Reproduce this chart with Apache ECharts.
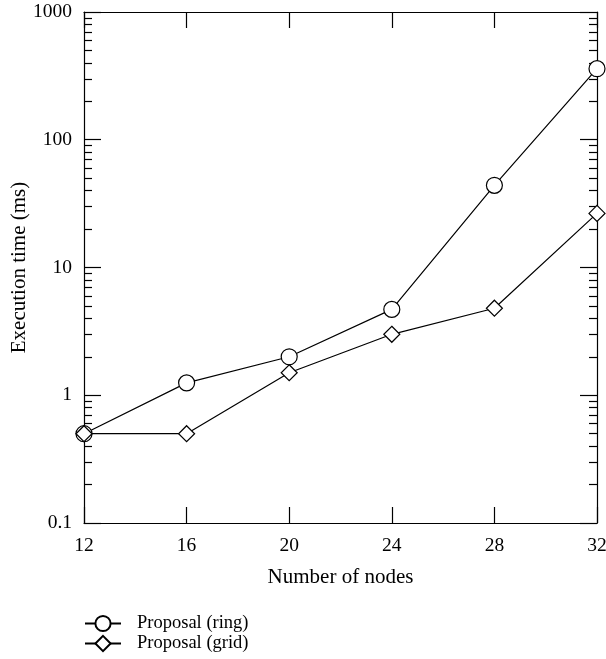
<!DOCTYPE html>
<html>
<head>
<meta charset="utf-8">
<script src="https://cdn.jsdelivr.net/npm/echarts@6/dist/echarts.min.js"></script>
<style>
  html, body { margin: 0; padding: 0; background: #fff; }
  #chart { width: 606px; height: 659px; }
</style>
</head>
<body>
<div id="chart"></div>
<script>
// nodes on the x axis
const nodes = [12, 16, 20, 24, 28, 32];
// execution time (ms)
const ringTimes = [0.5, 1.25, 2.0, 4.7, 44, 360];
const gridTimes = [0.5, 0.5, 1.5, 3.0, 4.8, 26.5];
// minor tick values between decades
const minorTickValues = [];
[0.1, 1, 10, 100].forEach(d => {
  for (let k = 2; k <= 9; k++) minorTickValues.push(Math.log10(k * d));
});

const chart = echarts.init(document.getElementById('chart'));
const font = 'Liberation Serif';
const black = '#000';

const pairs = arr => nodes.map((n, i) => [n, arr[i]]);

const lineBase = {
  type: 'line',
  symbolSize: 16,
  showAllSymbol: true,
  lineStyle: { color: black, width: 1.2 },
  itemStyle: { color: '#fff', borderColor: black, borderWidth: 1.2 },
  emphasis: { disabled: true },
  animation: false,
  z: 5
};

const tickOnlyY = (pos) => ({
  type: 'value',
  position: pos,
  min: -1,
  max: 3,
  axisLine: { show: false, onZero: false },
  axisLabel: { show: false },
  splitLine: { show: false },
  axisTick: {
    inside: true,
    length: 8,
    customValues: minorTickValues,
    lineStyle: { color: black, width: 1.2 }
  }
});

let option = {
  animation: false,
  textStyle: { fontFamily: font, color: black },
  grid: { left: 84, right: 9, top: 12, bottom: 136, containLabel: false, outerBoundsMode: 'none' },
  legend: {
    orient: 'vertical',
    left: 84,
    top: 614,
    padding: 0,
    itemWidth: 36,
    itemHeight: 19,
    itemGap: 1,
    textStyle: { fontFamily: font, fontSize: 18.5, color: black, padding: [0, 0, 0, 11] },
    data: ['Proposal (ring)', 'Proposal (grid)']
  },
  xAxis: [
    {
      type: 'value',
      min: 12,
      max: 32,
      interval: 4,
      name: 'Number of nodes',
      nameLocation: 'middle',
      nameGap: 44,
      nameTextStyle: { fontFamily: font, fontSize: 21, color: black },
      axisLine: { onZero: false, lineStyle: { color: black, width: 1.2 } },
      axisTick: { inside: true, length: 16, lineStyle: { color: black, width: 1.2 } },
      axisLabel: { margin: 13, fontFamily: font, fontSize: 19.5, color: black },
      splitLine: { show: false }
    },
    {
      type: 'value',
      position: 'top',
      min: 12,
      max: 32,
      interval: 4,
      axisLine: { onZero: false, lineStyle: { color: black, width: 1.2 } },
      axisTick: { inside: true, length: 16, lineStyle: { color: black, width: 1.2 } },
      axisLabel: { show: false },
      splitLine: { show: false }
    }
  ],
  yAxis: [
    {
      type: 'log',
      logBase: 10,
      min: 0.1,
      max: 1000,
      name: 'Execution time (ms)',
      nameLocation: 'middle',
      nameRotate: 90,
      nameGap: 54,
      nameMoveOverlap: false,
      nameTextStyle: { fontFamily: font, fontSize: 21, color: black },
      axisLine: { onZero: false, lineStyle: { color: black, width: 1.2 } },
      axisTick: { inside: true, length: 17, lineStyle: { color: black, width: 1.2 } },
      axisLabel: { margin: 12, fontFamily: font, fontSize: 19.5, color: black, formatter: v => String(v) },
      splitLine: { show: false }
    },
    {
      type: 'log',
      logBase: 10,
      position: 'right',
      min: 0.1,
      max: 1000,
      axisLine: { onZero: false, lineStyle: { color: black, width: 1.2 } },
      axisTick: { inside: true, length: 17, lineStyle: { color: black, width: 1.2 } },
      axisLabel: { show: false },
      splitLine: { show: false }
    },
    tickOnlyY('left'),
    tickOnlyY('right')
  ],
  series: [
    Object.assign({}, lineBase, {
      name: 'Proposal (ring)',
      symbol: 'circle',
      data: pairs(ringTimes)
    }),
    Object.assign({}, lineBase, {
      name: 'Proposal (grid)',
      symbol: 'diamond',
      data: pairs(gridTimes)
    })
  ]
};

option && chart.setOption(option);
</script>
</body>
</html>
